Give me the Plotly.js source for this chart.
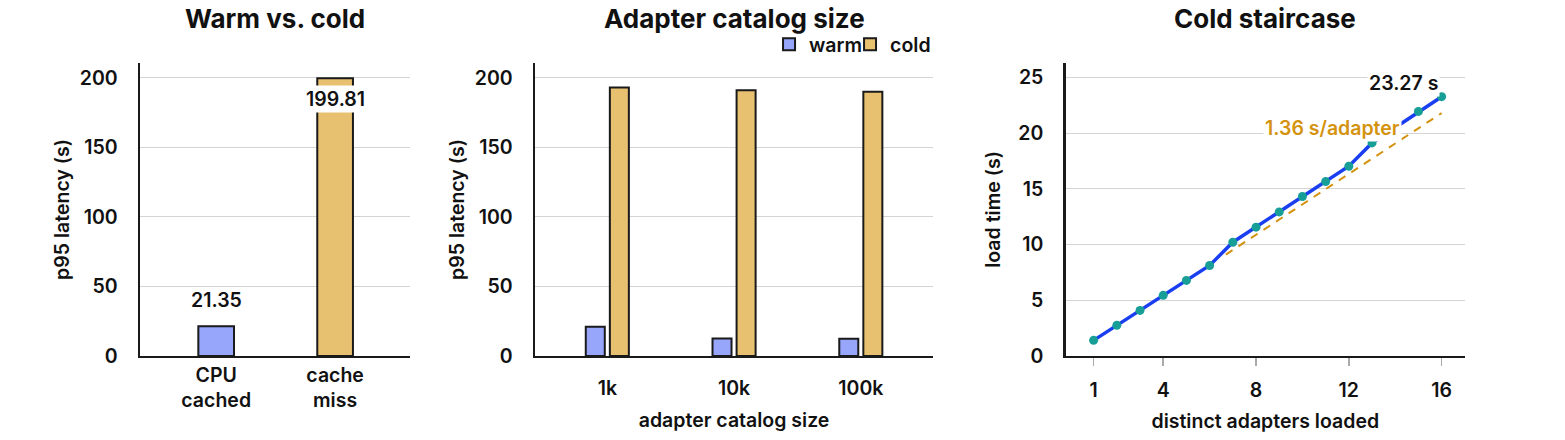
<!DOCTYPE html>
<html>
<head>
<meta charset="utf-8">
<script src="https://cdn.plot.ly/plotly-3.0.1.min.js"></script>
<style>
  html, body { margin: 0; padding: 0; background: #fff; }
  #chart { width: 1565px; height: 440px; }
</style>
</head>
<body>
<div id="chart"></div>
<script>
// ── Panel 1: warm vs. cold ─────────────────────────────────────────────
const wcCats   = ['CPU<br>cached', 'cache<br>miss'];
const wcValues = [21.35, 199.81];

// ── Panel 2: catalog size ──────────────────────────────────────────────
const catSizes  = ['1k', '10k', '100k'];
const catWarm   = [21.1, 12.5, 12.4];
const catCold   = [193.1, 191.2, 190.0];

// ── Panel 3: cold staircase ────────────────────────────────────────────
const stairN    = [1, 2, 3, 4, 5, 6, 7, 8, 9, 10, 11, 12, 13, 14, 15, 16];
const stairLoad = [1.40, 2.75, 4.09, 5.44, 6.78, 8.12, 10.21, 11.56, 12.93, 14.31,
                   15.65, 17.03, 19.12, 20.50, 21.95, 23.27];
const fitN      = [6.7, 16];
const fitLoad   = [9.1, 21.8];
const fitSlope  = 1.36;

const WARM = '#97a6fb', COLD = '#e8c170', INK = '#111';
const LINE_BLUE = '#1a3ff0', DOT_TEAL = '#179e97', FIT_ORANGE = '#d4930f';
const FONT = 'Inter, "Open Sans", sans-serif';

const barLine = { color: '#1a1a1a', width: 2 };

const traces = [
    { type: 'bar', x: wcCats, y: wcValues, xaxis: 'x', yaxis: 'y',
      width: 0.30, marker: { color: [WARM, COLD], line: barLine },
      showlegend: false, hoverinfo: 'none' },
    { type: 'bar', name: 'warm', x: catSizes, y: catWarm, xaxis: 'x2', yaxis: 'y2',
      offset: -0.17, width: 0.15, marker: { color: WARM, line: barLine }, hoverinfo: 'none' },
    { type: 'bar', name: 'cold', x: catSizes, y: catCold, xaxis: 'x2', yaxis: 'y2',
      offset: 0.02, width: 0.15, marker: { color: COLD, line: barLine }, hoverinfo: 'none' },
    { type: 'scatter', mode: 'lines', x: fitN, y: fitLoad, xaxis: 'x3', yaxis: 'y3',
      line: { color: FIT_ORANGE, width: 2, dash: '8px,7px' }, showlegend: false, hoverinfo: 'none' },
    { type: 'scatter', mode: 'lines+markers', x: stairN, y: stairLoad, xaxis: 'x3', yaxis: 'y3',
      line: { color: LINE_BLUE, width: 3.5 }, marker: { color: DOT_TEAL, size: 9 },
      showlegend: false, hoverinfo: 'none' }
];

const TXT = 19.5;
const tickFont  = { family: FONT, size: TXT, color: INK, weight: 600 };
const titleFont = { family: FONT, size: TXT, color: INK, weight: 600 };
const headFont  = { family: FONT, size: 26, color: INK, weight: 700 };

const yAx = (range, dtick) => ({
    range, dtick, showgrid: true, gridcolor: '#d4d4d4', gridwidth: 1,
    showline: true, linecolor: '#1a1a1a', linewidth: 2.5, zeroline: false,
    ticks: '', tickfont: tickFont, ticklabelstandoff: 16, fixedrange: true,
    domain: [0.191, 0.857]
});
const xAx = (domain, range) => ({
    domain, range, showgrid: false, showline: true, linecolor: '#1a1a1a', linewidth: 2.5,
    zeroline: false, ticks: '', tickfont: tickFont, fixedrange: true
});

const layout = {
    width: 1565, height: 440,
    margin: { l: 0, r: 0, t: 0, b: 0 },
    paper_bgcolor: '#fff', plot_bgcolor: '#fff',
    barmode: 'overlay',
    font: { family: FONT, color: INK },
    xaxis:  Object.assign(xAx([0.0895, 0.262], [-0.64, 1.63]), { ticklabelstandoff: 0 }),
    yaxis:  Object.assign(yAx([0, 210.8], 50), { title: { text: 'p95 latency (s)', font: titleFont, standoff: 5 } }),
    xaxis2: Object.assign(xAx([0.3419, 0.5962], [-0.57, 2.57]), {
        anchor: 'y2', ticklabelstandoff: 13,
        title: { text: 'adapter catalog size', font: titleFont, standoff: 15 } }),
    yaxis2: Object.assign(yAx([0, 210.8], 50), { anchor: 'x2',
        title: { text: 'p95 latency (s)', font: titleFont, standoff: 5 } }),
    xaxis3: Object.assign(xAx([0.681, 0.936], [-0.2, 17.0]), {
        anchor: 'y3', tickvals: [1, 4, 8, 12, 16], ticks: 'outside', ticklen: 8,
        tickwidth: 1.5, tickcolor: '#aaa', ticklabelstandoff: 7,
        title: { text: 'distinct adapters loaded', font: titleFont, standoff: 14 } }),
    yaxis3: Object.assign(yAx([0, 26.3], 5), { anchor: 'x3',
        title: { text: 'load time (s)', font: titleFont, standoff: 13 } }),
    legend: {
        orientation: 'h', x: 0.4914, y: 0.943, xanchor: 'left', yanchor: 'top',
        font: { family: FONT, size: TXT, color: INK, weight: 600 },
        bgcolor: 'rgba(0,0,0,0)', entrywidth: 36, entrywidthmode: 'pixels', tracegroupgap: 0
    },
    annotations: [
        { text: 'Warm vs. cold', xref: 'x domain', yref: 'paper', x: 0.5, y: 0.957,
          yanchor: 'middle', showarrow: false, font: headFont },
        { text: 'Adapter catalog size', xref: 'x2 domain', yref: 'paper', x: 0.5, y: 0.957,
          yanchor: 'middle', showarrow: false, font: headFont },
        { text: 'Cold staircase', xref: 'x3 domain', yref: 'paper', x: 0.5, y: 0.957,
          yanchor: 'middle', showarrow: false, font: headFont },
        { text: wcValues[0].toFixed(2), xref: 'x', yref: 'y', x: wcCats[0], y: wcValues[0],
          yshift: 26, showarrow: false, font: tickFont },
        { text: wcValues[1].toFixed(2), xref: 'x', yref: 'y', x: wcCats[1], y: wcValues[1],
          yshift: -21, showarrow: false, bgcolor: '#fff', borderpad: 1, font: tickFont },
        { text: stairLoad[15].toFixed(2) + ' s', xref: 'x3', yref: 'y3', x: 16, y: stairLoad[15],
          xanchor: 'right', xshift: -2, yshift: 14, showarrow: false, bgcolor: '#fff',
          font: tickFont },
        { text: fitSlope.toFixed(2) + ' s/adapter', xref: 'x3', yref: 'y3', x: 14.3, y: 20.5,
          xanchor: 'right', showarrow: false, bgcolor: '#fff',
          font: { family: FONT, size: TXT, color: FIT_ORANGE, weight: 600 } }
    ]
};

Plotly.newPlot('chart', traces, layout, { displayModeBar: false, staticPlot: true });
</script>
</body>
</html>
